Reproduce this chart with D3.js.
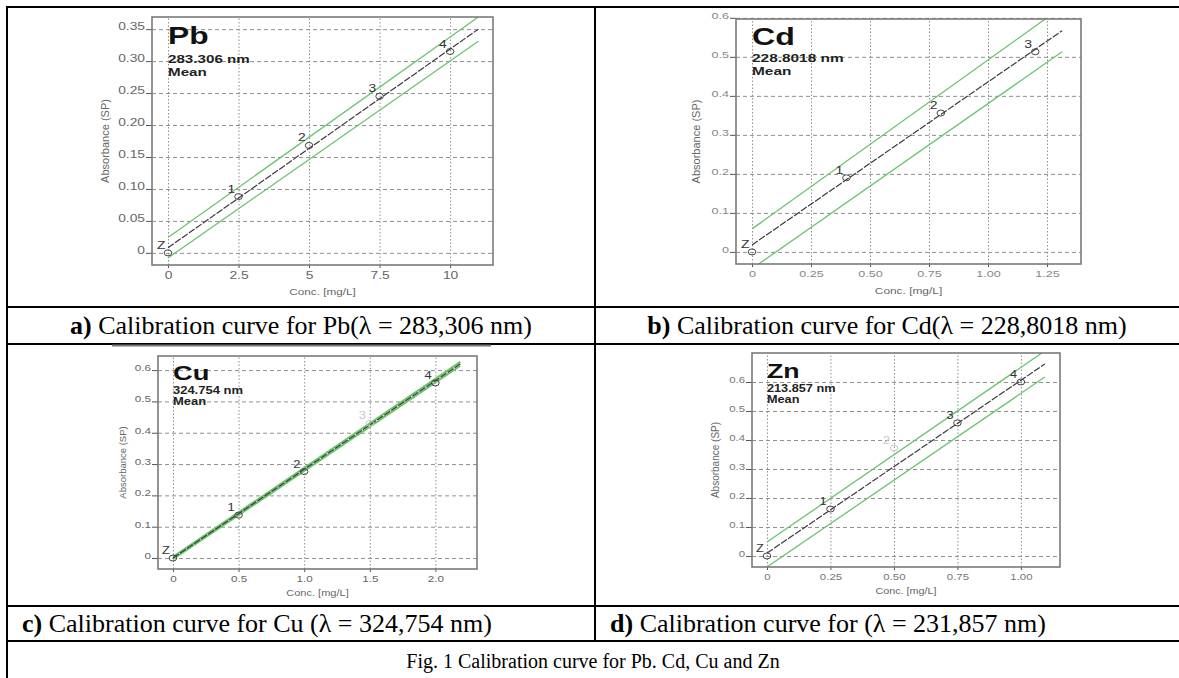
<!DOCTYPE html>
<html>
<head>
<meta charset="utf-8">
<script src="https://cdn.jsdelivr.net/npm/d3@7"></script>
<style>
body { margin: 0; background: #fff; }
svg { display: block; }
</style>
</head>
<body>
<svg id="fig"></svg>
<script>
// calibration standards
var pointNames = ["Z", "1", "2", "3", "4"];

var pbConc = [0, 2.5, 5, 7.5, 10];
var pbAbs = [0, 0.088, 0.168, 0.245, 0.315];
var pbFitX = [0, 11];
var pbFitY = [0.008, 0.350];
var pbUpperY = [0.024, 0.369];
var pbLowerY = [-0.008, 0.331];
var pbXTicks = [0, 2.5, 5, 7.5, 10];
var pbXLabels = ["0", "2.5", "5", "7.5", "10"];
var pbYTicks = [0, 0.05, 0.10, 0.15, 0.20, 0.25, 0.30, 0.35];
var pbYLabels = ["0", "0.05", "0.10", "0.15", "0.20", "0.25", "0.30", "0.35"];

var cdConc = [0, 0.4, 0.8, 1.2];
var cdAbs = [0, 0.19, 0.356, 0.513];
var cdFitX = [0, 1.314];
var cdFitY = [0.018, 0.567];
var cdUpperY = [0.059, 0.628];
var cdLowerY = [-0.043, 0.513];
var cdXTicks = [0, 0.25, 0.5, 0.75, 1.0, 1.25];
var cdXLabels = ["0", "0.25", "0.50", "0.75", "1.00", "1.25"];
var cdYTicks = [0, 0.1, 0.2, 0.3, 0.4, 0.5, 0.6];
var cdYLabels = ["0", "0.1", "0.2", "0.3", "0.4", "0.5", "0.6"];

var cuConc = [0, 0.5, 1.0, 1.5, 2.0];
var cuAbs = [0, 0.137, 0.276, 0.43, 0.559];
var cuFaint = [3];
var cuFitX = [0, 2.19];
var cuFitY = [0.0, 0.62];
var cuUpperY = [0.004, 0.626];
var cuLowerY = [-0.004, 0.614];
var cuXTicks = [0, 0.5, 1.0, 1.5, 2.0];
var cuXLabels = ["0", "0.5", "1.0", "1.5", "2.0"];
var cuYTicks = [0, 0.1, 0.2, 0.3, 0.4, 0.5, 0.6];
var cuYLabels = ["0", "0.1", "0.2", "0.3", "0.4", "0.5", "0.6"];

var znConc = [0, 0.25, 0.5, 0.75, 1.0];
var znAbs = [0, 0.162, 0.372, 0.459, 0.6];
var znFaint = [2];
var znFitX = [0, 1.094];
var znFitY = [0.01, 0.662];
var znUpperY = [0.048, 0.707];
var znLowerY = [-0.038, 0.617];
var znXTicks = [0, 0.25, 0.5, 0.75, 1.0];
var znXLabels = ["0", "0.25", "0.50", "0.75", "1.00"];
var znYTicks = [0, 0.1, 0.2, 0.3, 0.4, 0.5, 0.6];
var znYLabels = ["0", "0.1", "0.2", "0.3", "0.4", "0.5", "0.6"];

var captions = [
    {tag: "a)", text: " Calibration curve for Pb(\u03bb = 283,306 nm)"},
    {tag: "b)", text: " Calibration curve for Cd(\u03bb = 228,8018 nm)"},
    {tag: "c)", text: " Calibration curve for Cu (\u03bb = 324,754 nm)"},
    {tag: "d)", text: " Calibration curve for (\u03bb = 231,857 nm)"}
];
var figCaption = "Fig. 1 Calibration curve for Pb. Cd, Cu and Zn";

var screen = {width: 1179, height: 678};

var svg = d3.select("#fig")
    .attr("width", screen.width)
    .attr("height", screen.height);

var sans = "'Liberation Sans', Arial, sans-serif";
var serif = "'Liberation Serif', 'Times New Roman', serif";

// the pasted screenshots are stretched sideways, so text gets sx
var panels = [
    {id: "pb", name: "Pb", wave: "283.306 nm", frame: {x: 152, y: 17, w: 341, h: 248},
     xDomain: [-0.567, 11.52], yDomain: [-0.019, 0.369],
     conc: pbConc, abs: pbAbs, faint: [], fitX: pbFitX, fitY: pbFitY, upY: pbUpperY, loY: pbLowerY,
     xTicks: pbXTicks, xLabels: pbXLabels, yTicks: pbYTicks, yLabels: pbYLabels,
     sx: 1.38, tick: 10, tickColor: "#666", head: [27, 46, 59], headSize: [23, 11],
     xTitleY: 30, yTitleX: -43, yTitleSize: 11},
    {id: "cd", name: "Cd", wave: "228.8018 nm", frame: {x: 736, y: 19, w: 345, h: 245},
     xDomain: [-0.068, 1.394], yDomain: [-0.031, 0.597],
     conc: cdConc, abs: cdAbs, faint: [], fitX: cdFitX, fitY: cdFitY, upY: cdUpperY, loY: cdLowerY,
     xTicks: cdXTicks, xLabels: cdXLabels, yTicks: cdYTicks, yLabels: cdYLabels,
     sx: 1.4, tick: 9, tickColor: "#888", head: [26, 43, 56], headSize: [23, 11],
     xTitleY: 30, yTitleX: -36, yTitleSize: 11},
    {id: "cu", name: "Cu", wave: "324.754 nm", frame: {x: 158, y: 356, w: 319, h: 213},
     xDomain: [-0.114, 2.317], yDomain: [-0.035, 0.645],
     conc: cuConc, abs: cuAbs, faint: cuFaint, fitX: cuFitX, fitY: cuFitY, upY: cuUpperY, loY: cuLowerY,
     xTicks: cuXTicks, xLabels: cuXLabels, yTicks: cuYTicks, yLabels: cuYLabels,
     sx: 1.3, tick: 9, tickColor: "#666", head: [24, 38, 49], headSize: [21, 10],
     xTitleY: 27, yTitleX: -32, yTitleSize: 9.5},
    {id: "zn", name: "Zn", wave: "213.857 nm", frame: {x: 752, y: 353, w: 308, h: 214},
     xDomain: [-0.059, 1.154], yDomain: [-0.038, 0.700],
     conc: znConc, abs: znAbs, faint: znFaint, fitX: znFitX, fitY: znFitY, upY: znUpperY, loY: znLowerY,
     xTicks: znXTicks, xLabels: znXLabels, yTicks: znYTicks, yLabels: znYLabels,
     sx: 1.27, tick: 9, tickColor: "#777", head: [25, 39, 50], headSize: [21, 10],
     xTitleY: 27, yTitleX: -33, yTitleSize: 10}
];

// place a text at (x,y) and squeeze/stretch it sideways
var wideText = function(parent, str, x, y, sx)
{
    return parent.append("text")
        .text(str)
        .attr("transform", "translate(" + x + "," + y + ") scale(" + sx + ",1)");
}

var drawPanel = function(p)
{
    var f = p.frame;
    var g = svg.append("g")
        .attr("transform", "translate(" + f.x + "," + f.y + ")");

    var xScale = d3.scaleLinear().domain(p.xDomain).range([0, f.w]);
    var yScale = d3.scaleLinear().domain(p.yDomain).range([f.h, 0]);

    g.append("clipPath").attr("id", "clip-" + p.id)
        .append("rect").attr("width", f.w).attr("height", f.h);

    // grid
    g.append("g")
        .call(d3.axisLeft(yScale).tickValues(p.yTicks).tickSize(-f.w).tickFormat(""))
        .call(function(a) {
            a.select(".domain").remove();
            a.selectAll("line").attr("stroke", "#8f8f8f").attr("stroke-dasharray", "4,3");
        });
    g.append("g")
        .attr("transform", "translate(0," + f.h + ")")
        .call(d3.axisBottom(xScale).tickValues(p.xTicks).tickSize(-f.h).tickFormat(""))
        .call(function(a) {
            a.select(".domain").remove();
            a.selectAll("line").attr("stroke", "#8f8f8f").attr("stroke-dasharray", "1.5,2");
        });

    // axes
    g.append("g")
        .call(d3.axisLeft(yScale).tickValues(p.yTicks).tickSize(6).tickPadding(1)
              .tickFormat(function(d, i) { return p.yLabels[i]; }))
        .call(function(a) {
            a.select(".domain").remove();
            a.selectAll("line").attr("stroke", "#555");
            a.selectAll("text")
                .attr("font-family", sans)
                .attr("fill", p.tickColor).attr("font-size", p.tick)
                .attr("dy", "0.05em")
                .attr("x", -7 / p.sx)
                .attr("transform", "scale(" + p.sx + ",1)");
        });
    g.append("g")
        .attr("transform", "translate(0," + f.h + ")")
        .call(d3.axisBottom(xScale).tickValues(p.xTicks).tickSize(3).tickPadding(4)
              .tickFormat(function(d, i) { return p.xLabels[i]; }))
        .call(function(a) {
            a.select(".domain").remove();
            a.selectAll("line").attr("stroke", "#555");
            a.selectAll("text")
                .attr("font-family", sans)
                .attr("fill", p.tickColor).attr("font-size", p.tick)
                .attr("transform", "scale(" + p.sx + ",1)");
        });

    wideText(g, "Conc. [mg/L]", f.w / 2, f.h + p.xTitleY, p.sx)
        .attr("text-anchor", "middle")
        .attr("font-family", sans).attr("font-size", 8.5).attr("fill", "#666");

    g.append("g")
        .attr("transform", "translate(" + p.yTitleX + "," + (f.h / 2) + ")")
        .append("text")
        .text("Absorbance (SP)")
        .attr("transform", "rotate(270)")
        .attr("text-anchor", "middle")
        .attr("font-family", sans).attr("font-size", p.yTitleSize).attr("fill", "#666");

    // fit line and confidence band
    var plot = g.append("g").attr("clip-path", "url(#clip-" + p.id + ")");
    var line = d3.line()
        .x(function(d) { return xScale(d[0]); })
        .y(function(d) { return yScale(d[1]); });

    [p.upY, p.loY].forEach(function(ys) {
        plot.append("path")
            .datum(d3.zip(p.fitX, ys))
            .attr("d", line)
            .attr("fill", "none")
            .attr("stroke", "#6cc46c")
            .attr("stroke-width", p.id == "cu" ? 2 : 1.3);
    });
    plot.append("path")
        .datum(d3.zip(p.fitX, p.fitY))
        .attr("d", line)
        .attr("fill", "none")
        .attr("stroke", "#3a3a3a")
        .attr("stroke-width", 1.2)
        .attr("stroke-dasharray", "7,1.5");

    // standards
    var pts = d3.zip(p.conc, p.abs);
    var names = p.id == "cd" ? ["Z", "1", "2", "3"] : pointNames;
    var isFaint = function(i) { return p.faint.indexOf(i) >= 0; };
    plot.selectAll("ellipse")
        .data(pts)
        .enter()
        .append("ellipse")
        .attr("cx", function(d) { return xScale(d[0]); })
        .attr("cy", function(d) { return yScale(d[1]); })
        .attr("rx", 3.8)
        .attr("ry", 3)
        .attr("fill", "none")
        .attr("stroke", function(d, i) { return isFaint(i) ? "#c8c8c8" : "#444"; })
        .attr("stroke-width", 1);
    pts.forEach(function(d, i) {
        wideText(g, names[i], xScale(d[0]) - 11, yScale(d[1]) - 4, p.sx)
            .attr("font-family", sans).attr("font-size", 10)
            .attr("fill", isFaint(i) ? "#c8c8c8" : "#333");
    });

    // frame
    g.append("rect")
        .attr("width", f.w).attr("height", f.h)
        .attr("fill", "none")
        .attr("stroke", "#7a7a7a")
        .attr("stroke-width", 1.6);

    // element header
    var x0 = xScale(0);
    wideText(g, p.name, x0, p.head[0], p.sx)
        .attr("font-family", sans).attr("font-weight", "bold")
        .attr("font-size", p.headSize[0]).attr("fill", "#111");
    wideText(g, p.wave, x0, p.head[1], p.sx)
        .attr("font-family", sans).attr("font-weight", "bold")
        .attr("font-size", p.headSize[1]).attr("fill", "#222");
    wideText(g, "Mean", x0, p.head[2], p.sx)
        .attr("font-family", sans).attr("font-weight", "bold")
        .attr("font-size", p.headSize[1]).attr("fill", "#222");
}

panels.forEach(drawPanel);

// table rules
var table = svg.append("g").attr("stroke", "#000").attr("stroke-width", 2);
var rowLines = [7, 307, 344, 606, 641];
rowLines.forEach(function(y) {
    table.append("line").attr("x1", 6).attr("x2", screen.width).attr("y1", y).attr("y2", y);
});
table.append("line").attr("x1", 7).attr("x2", 7).attr("y1", 6).attr("y2", screen.height);
table.append("line").attr("x1", 595).attr("x2", 595).attr("y1", 6).attr("y2", 641);
svg.append("line")
    .attr("x1", 112).attr("x2", 491).attr("y1", 345.5).attr("y2", 345.5)
    .attr("stroke", "#777").attr("stroke-width", 2);

// captions
var capPos = [
    {x: 301, y: 334, anchor: "middle"},
    {x: 887, y: 334, anchor: "middle"},
    {x: 22, y: 632, anchor: "start"},
    {x: 610, y: 632, anchor: "start"}
];
captions.forEach(function(c, i) {
    var t = svg.append("text")
        .attr("x", capPos[i].x).attr("y", capPos[i].y)
        .attr("text-anchor", capPos[i].anchor)
        .attr("font-family", serif).attr("font-size", 26).attr("fill", "#000");
    t.append("tspan").attr("font-weight", "bold").text(c.tag);
    t.append("tspan").text(c.text);
});
svg.append("text")
    .text(figCaption)
    .attr("x", 593).attr("y", 668)
    .attr("text-anchor", "middle")
    .attr("font-family", serif).attr("font-size", 20).attr("fill", "#000");
</script>
</body>
</html>
